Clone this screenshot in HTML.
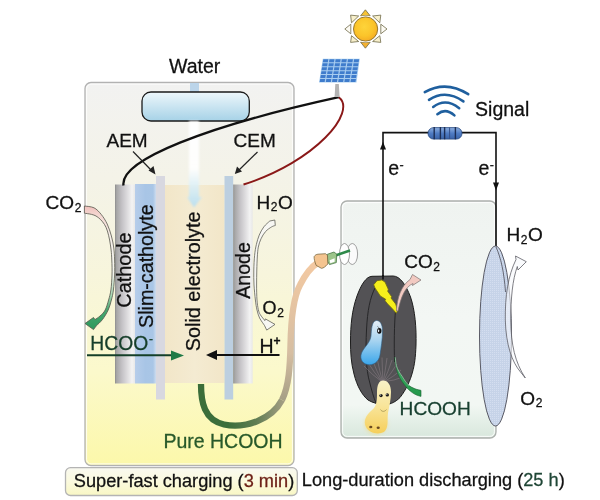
<!DOCTYPE html>
<html><head><meta charset="utf-8">
<style>
html,body{margin:0;padding:0;background:#fff;width:600px;height:500px;overflow:hidden}
svg{display:block}
text{font-family:"Liberation Sans",sans-serif;fill:#111;stroke:#111;stroke-width:0.28px}
svg{will-change:transform}
</style></head><body>
<svg width="600" height="500" viewBox="0 0 600 500">
<defs>
 <linearGradient id="gBox" x1="0" y1="0" x2="0" y2="1">
  <stop offset="0" stop-color="#f2f2f1"/>
  <stop offset="0.25" stop-color="#f4f3e8"/>
  <stop offset="0.5" stop-color="#f7f5dc"/>
  <stop offset="0.75" stop-color="#fbf9cc"/>
  <stop offset="1" stop-color="#fcf8aa"/>
 </linearGradient>
 <linearGradient id="gBox2" x1="0" y1="0" x2="0" y2="1">
  <stop offset="0" stop-color="#eff3f0"/>
  <stop offset="0.5" stop-color="#f3f7f4"/>
  <stop offset="0.86" stop-color="#f2f7f3"/>
  <stop offset="0.93" stop-color="#e4efe7"/>
  <stop offset="1" stop-color="#d8e7dc"/>
 </linearGradient>
 <linearGradient id="gPill" x1="0" y1="0" x2="0" y2="1">
  <stop offset="0" stop-color="#eef7fb"/>
  <stop offset="1" stop-color="#a6d2e7"/>
 </linearGradient>
 <linearGradient id="gCyl" x1="0" y1="0" x2="1" y2="0">
  <stop offset="0" stop-color="#8c8c8c"/>
  <stop offset="0.08" stop-color="#a6a6a6"/>
  <stop offset="0.35" stop-color="#c4c2c6"/>
  <stop offset="0.65" stop-color="#e0dfe1"/>
  <stop offset="0.85" stop-color="#f3f3f3"/>
  <stop offset="1" stop-color="#e8e8e8"/>
 </linearGradient>
 <linearGradient id="gBlue" x1="0" y1="0" x2="1" y2="0">
  <stop offset="0" stop-color="#b6cdea"/>
  <stop offset="0.5" stop-color="#a8c5e6"/>
  <stop offset="0.86" stop-color="#a9c6e6"/>
  <stop offset="1" stop-color="#cddcee"/>
 </linearGradient>
 <linearGradient id="gSE" x1="0" y1="0" x2="1" y2="0">
  <stop offset="0" stop-color="#f2e6c8"/>
  <stop offset="0.5" stop-color="#f4ebd2"/>
  <stop offset="1" stop-color="#f2e6c8"/>
 </linearGradient>
 <linearGradient id="gStream" x1="0" y1="0" x2="0" y2="1">
  <stop offset="0" stop-color="#ffffff" stop-opacity="0.95"/>
  <stop offset="0.55" stop-color="#ffffff" stop-opacity="0.9"/>
  <stop offset="0.8" stop-color="#d4ecf6" stop-opacity="0.9"/>
  <stop offset="1" stop-color="#b8def0" stop-opacity="0.95"/>
 </linearGradient>
 <filter id="blur2" x="-50%" y="-50%" width="200%" height="200%"><feGaussianBlur stdDeviation="2"/></filter>
 <filter id="soft" x="-50%" y="-10%" width="200%" height="120%"><feGaussianBlur stdDeviation="1.2"/></filter>
 <linearGradient id="gTubeA" gradientUnits="userSpaceOnUse" x1="228" y1="0" x2="284" y2="0">
  <stop offset="0" stop-color="#3b6e3a"/>
  <stop offset="0.5" stop-color="#5f7d52"/>
  <stop offset="1" stop-color="#a49e84"/>
 </linearGradient>
 <linearGradient id="gTubeB" gradientUnits="userSpaceOnUse" x1="0" y1="402" x2="0" y2="262">
  <stop offset="0" stop-color="#a49e84"/>
  <stop offset="0.35" stop-color="#d6bea2"/>
  <stop offset="1" stop-color="#f3c9a2"/>
 </linearGradient>
 <linearGradient id="gCO2" gradientUnits="userSpaceOnUse" x1="0" y1="206" x2="0" y2="328">
  <stop offset="0" stop-color="#f0c0bc"/>
  <stop offset="0.08" stop-color="#f4d8d2"/>
  <stop offset="0.24" stop-color="#f6efe9"/>
  <stop offset="0.56" stop-color="#f3f5ee"/>
  <stop offset="0.73" stop-color="#a8d8b4"/>
  <stop offset="0.85" stop-color="#48a870"/>
  <stop offset="1" stop-color="#2e9a5e"/>
 </linearGradient>
 <linearGradient id="gLbl" x1="0" y1="0" x2="0" y2="1">
  <stop offset="0" stop-color="#f9f9f0"/>
  <stop offset="0.5" stop-color="#fbfade"/>
  <stop offset="1" stop-color="#f9f7c4"/>
 </linearGradient>
 <linearGradient id="gGreen" gradientUnits="userSpaceOnUse" x1="0" y1="357" x2="0" y2="396">
  <stop offset="0" stop-color="#c8e8cc"/>
  <stop offset="0.35" stop-color="#3aa860"/>
  <stop offset="1" stop-color="#22984a"/>
 </linearGradient>
 <radialGradient id="gSun" cx="0.45" cy="0.4" r="0.65">
  <stop offset="0" stop-color="#fed43a"/>
  <stop offset="0.6" stop-color="#fbc42a"/>
  <stop offset="1" stop-color="#f4a822"/>
 </radialGradient>
 <linearGradient id="gRes" x1="0" y1="0" x2="0" y2="1">
  <stop offset="0" stop-color="#8fb0e0"/>
  <stop offset="0.5" stop-color="#4f7cc4"/>
  <stop offset="1" stop-color="#3a63a8"/>
 </linearGradient>
 <pattern id="dots" width="2" height="2" patternUnits="userSpaceOnUse">
  <rect width="2" height="2" fill="#c6d3e8"/>
  <rect width="1" height="1" fill="#d4def0"/>
 </pattern>
</defs>

<!-- LEFT BOX -->
<rect x="85" y="82.5" width="209" height="383" rx="6" fill="url(#gBox)" stroke="#b2b2b2" stroke-width="1.3"/>
<rect x="86.6" y="84.1" width="205.8" height="379.8" rx="4.6" fill="none" stroke="#ffffff" stroke-width="1" opacity="0.8"/>
<!-- water connector -->
<rect x="190" y="83" width="9" height="10" fill="#bcd5ea"/>

<!-- water pill -->
<rect x="142" y="92" width="107.3" height="29" rx="9" fill="url(#gPill)" stroke="#1a1a1a" stroke-width="1.3"/>

<!-- electrodes -->
<rect x="115" y="184.5" width="20" height="199" fill="url(#gCyl)"/>
<rect x="135" y="184" width="21" height="199.5" fill="url(#gBlue)"/>
<rect x="156" y="176" width="9" height="223.5" fill="#d8d8e0"/>
<rect x="165" y="185" width="59.5" height="198" fill="url(#gSE)"/>
<rect x="224.5" y="176" width="8.7" height="223.5" fill="#bccfe0"/>
<rect x="233.2" y="184.5" width="19.5" height="199" fill="url(#gCyl)"/>
<!-- water stream + arrow -->
<path d="M189,121 L199,121 L199,197 L202,197 L194,207.5 L187,197 L189,197 Z" fill="url(#gStream)" filter="url(#soft)"/>

<!-- wires -->
<path d="M123.5,185.5 C119.6,160 206.3,126.2 338.8,97.2" fill="none" stroke="#111" stroke-width="2.3"/>
<path d="M338.8,97.2 C357.3,111.4 316.4,161.4 243.5,184.5" fill="none" stroke="#8a1818" stroke-width="1.9"/>

<!-- AEM / CEM labels & arrows -->
<text x="106.5" y="147" font-size="19">AEM</text>
<text x="233.5" y="147" font-size="19">CEM</text>
<path d="M133,151.5 L152,171" stroke="#222" stroke-width="1.2"/>
<path d="M155.5,174.6 L148.5,170.5 L153.5,166 Z" fill="#222"/>
<path d="M257.5,152 L238,171" stroke="#222" stroke-width="1.2"/>
<path d="M234.8,174.1 L237,166.5 L242,171.5 Z" fill="#222"/>

<!-- Water text -->
<text x="169" y="73.3" font-size="19.5">Water</text>

<!-- vertical labels -->
<text transform="translate(130.6,307.7) rotate(-90)" font-size="19.9">Cathode</text>
<text transform="translate(152.8,328) rotate(-90)" font-size="19.7">Slim-catholyte</text>
<text transform="translate(200.2,351.2) rotate(-90)" font-size="19.8">Solid electrolyte</text>
<text transform="translate(249.6,298.8) rotate(-90)" font-size="19.6">Anode</text>

<!-- CO2 left + curved arrow -->
<text x="45.6" y="209.2" font-size="19">CO<tspan font-size="12" dy="2.6" dx="0.6">2</tspan></text>
<path d="M84.4,206.0 C86.0,206.3 91.2,206.4 94.0,207.8 C96.8,209.2 99.0,211.7 101.2,214.4 C103.4,217.1 105.5,220.4 107.2,224.0 C108.9,227.6 110.3,232.0 111.4,236.0 C112.5,240.0 113.3,244.0 113.8,248.0 C114.3,252.0 114.5,255.5 114.6,260.0 C114.7,264.5 114.8,270.0 114.6,275.0 C114.4,280.0 113.9,285.8 113.4,290.0 C112.9,294.2 112.3,296.7 111.4,300.0 C110.5,303.3 109.7,306.8 108.2,310.0 C106.7,313.2 104.5,316.9 102.5,319.5 C100.5,322.1 97.3,324.8 96.3,325.8 L93.5,329.6 L85,323.5 L93.5,317.5 L95.0,319.6 C95.8,319.0 98.3,317.6 100.0,316.0 C101.7,314.4 103.8,312.7 105.2,310.0 C106.6,307.3 107.6,303.3 108.6,300.0 C109.5,296.7 110.3,294.2 110.9,290.0 C111.5,285.8 111.8,280.0 112.0,275.0 C112.2,270.0 112.0,264.2 111.8,260.0 C111.6,255.8 111.5,253.3 111.1,250.0 C110.7,246.7 110.2,243.2 109.6,240.0 C109.0,236.8 108.2,233.6 107.4,231.0 C106.6,228.4 105.7,226.4 104.5,224.5 C103.3,222.6 101.9,220.9 100.5,219.5 C99.1,218.1 97.5,216.8 96.0,216.0 C94.5,215.2 93.5,214.9 91.6,214.4 C89.7,213.9 85.6,213.4 84.4,213.2 Z" fill="url(#gCO2)" stroke="#55554c" stroke-width="0.8" stroke-linejoin="round"/>

<!-- H2O left (anode) -->
<text x="256.5" y="208.8" font-size="19">H<tspan font-size="12" dy="2.6" dx="0.6">2</tspan><tspan dy="-2.6" dx="0.4">O</tspan></text>
<path d="M269.8,221.0 C268.8,222.0 265.6,224.5 263.8,226.9 C262.0,229.3 260.4,232.3 259.2,235.2 C258.0,238.1 257.2,241.0 256.4,244.4 C255.6,247.8 255.0,251.1 254.6,255.4 C254.2,259.7 253.9,265.1 253.8,270.0 C253.7,274.9 253.7,280.0 254.0,285.0 C254.3,290.0 254.9,295.8 255.4,300.0 C255.9,304.2 256.3,307.0 257.0,310.0 C257.7,313.0 258.4,315.4 259.6,318.0 C260.9,320.6 263.7,324.2 264.5,325.5 L266.7,330.1 L275,324.4 L265.4,318.9 L264.8,320.6 C264.1,319.6 261.4,316.5 260.3,314.7 C259.2,312.9 258.9,312.1 258.3,309.6 C257.8,307.2 257.3,304.1 257.0,300.0 C256.7,295.9 256.6,290.0 256.6,285.0 C256.6,280.0 256.7,274.7 256.8,270.0 C256.9,265.3 257.1,260.8 257.3,257.0 C257.6,253.2 257.7,250.1 258.3,247.1 C258.9,244.1 259.8,241.4 261.0,238.8 C262.2,236.2 263.8,233.5 265.6,231.5 C267.4,229.5 270.0,227.9 271.6,226.9 C273.2,225.9 274.7,225.7 275.3,225.5 L274.8,220 Z" fill="#f7f7f3" stroke="#55554f" stroke-width="0.75" stroke-linejoin="round"/>
<text x="262.6" y="313.9" font-size="18">O<tspan font-size="12" dy="2.6" dx="0.6">2</tspan></text>

<!-- HCOO- -->
<text x="90.3" y="350" font-size="19.3" style="fill:#163e2a;stroke:#163e2a">HCOO<tspan font-size="12" dy="-6.6" dx="0.8">-</tspan></text>
<path d="M87,355.3 L174,355.3" stroke="#143f28" stroke-width="2"/>
<path d="M184,355.5 L171,350.5 L171,360.5 Z" fill="#1f7a45"/>
<!-- H+ -->
<text x="259.5" y="352.9" font-size="19.5">H<tspan font-size="12" dy="-8" font-weight="bold">+</tspan></text>
<path d="M279.5,355 L214,355" stroke="#111" stroke-width="2.2"/>
<path d="M206,355 L217,350 L217,360 Z" fill="#111"/>

<!-- tube -->
<path d="M201,384 C201,402 204,420 224,424.5 C246,429 272,419 282,400" fill="none" stroke="url(#gTubeA)" stroke-width="6.3"/>
<path d="M282,400 C289,386 290,366 290.5,345 C291,318 293,298 300,285 C305,275 311,267 318,262.5" fill="none" stroke="url(#gTubeB)" stroke-width="6.3"/>

<text x="163.4" y="447.5" font-size="19.5" style="fill:#28592a;stroke:#28592a">Pure HCOOH</text>

<!-- bottom label box -->
<rect x="65.5" y="467.7" width="231.8" height="27.8" rx="5" fill="url(#gLbl)" stroke="#b4b4b4" stroke-width="1.3"/>
<text x="73.8" y="486.6" font-size="18.2">Super-fast charging (<tspan style="fill:#6e2218;stroke:#6e2218">3 min</tspan>)</text>
<text x="301.8" y="486.4" font-size="18.2">Long-duration discharging (<tspan style="fill:#1f4636;stroke:#1f4636">25 h</tspan>)</text>

<!-- SUN -->
<g stroke="#6f6a48" stroke-width="0.8" stroke-linejoin="round">
 <path d="M365.4,9.8 L360.6,15.8 L370.2,15.8 Z" fill="#f6c234"/>
 <path d="M365.4,48.2 L360.6,42.2 L370.2,42.2 Z" fill="#f3b030"/>
 <path d="M344.8,29 L350.8,24.2 L350.8,33.8 Z" fill="#fdfbf4"/>
 <path d="M387,29 L380.8,24.2 L380.8,33.8 Z" fill="#fdfbf4"/>
 <path d="M350.6,15.1 L358.7,16 L351.5,22.8 Z" fill="#f8f0cc"/>
 <path d="M380.8,15.1 L372.6,16 L379.8,22.8 Z" fill="#f8f0cc"/>
 <path d="M350.6,42.4 L358.7,41.5 L351.5,35.7 Z" fill="#f8f0cc"/>
 <path d="M380.8,42.4 L372.6,41.5 L379.8,35.7 Z" fill="#f8f0cc"/>
</g>
<circle cx="365.6" cy="29" r="13.2" fill="#fff"/>
<circle cx="365.6" cy="29" r="12.1" fill="url(#gSun)" stroke="#8a6e2a" stroke-width="0.9"/>

<!-- SOLAR PANEL -->
<path d="M335.3,84 L338.8,84 L339.6,97 L334.6,97 Z" fill="#b4b4b4"/>
<path d="M322.8,58.8 L359.8,58.8 L356.5,82.5 L319,82.5 Z" fill="#a8cdf0"/>
<g fill="#3f7ccc" transform="translate(322.8,58.8) skewX(-9.1)"><rect x="0.60" y="0.50" width="4.97" height="2.95"/><rect x="6.77" y="0.50" width="4.97" height="2.95"/><rect x="12.93" y="0.50" width="4.97" height="2.95"/><rect x="19.10" y="0.50" width="4.97" height="2.95"/><rect x="25.27" y="0.50" width="4.97" height="2.95"/><rect x="31.43" y="0.50" width="4.97" height="2.95"/><rect x="0.60" y="4.45" width="4.97" height="2.95"/><rect x="6.77" y="4.45" width="4.97" height="2.95"/><rect x="12.93" y="4.45" width="4.97" height="2.95"/><rect x="19.10" y="4.45" width="4.97" height="2.95"/><rect x="25.27" y="4.45" width="4.97" height="2.95"/><rect x="31.43" y="4.45" width="4.97" height="2.95"/><rect x="0.60" y="8.40" width="4.97" height="2.95"/><rect x="6.77" y="8.40" width="4.97" height="2.95"/><rect x="12.93" y="8.40" width="4.97" height="2.95"/><rect x="19.10" y="8.40" width="4.97" height="2.95"/><rect x="25.27" y="8.40" width="4.97" height="2.95"/><rect x="31.43" y="8.40" width="4.97" height="2.95"/><rect x="0.60" y="12.35" width="4.97" height="2.95"/><rect x="6.77" y="12.35" width="4.97" height="2.95"/><rect x="12.93" y="12.35" width="4.97" height="2.95"/><rect x="19.10" y="12.35" width="4.97" height="2.95"/><rect x="25.27" y="12.35" width="4.97" height="2.95"/><rect x="31.43" y="12.35" width="4.97" height="2.95"/><rect x="0.60" y="16.30" width="4.97" height="2.95"/><rect x="6.77" y="16.30" width="4.97" height="2.95"/><rect x="12.93" y="16.30" width="4.97" height="2.95"/><rect x="19.10" y="16.30" width="4.97" height="2.95"/><rect x="25.27" y="16.30" width="4.97" height="2.95"/><rect x="31.43" y="16.30" width="4.97" height="2.95"/><rect x="0.60" y="20.25" width="4.97" height="2.95"/><rect x="6.77" y="20.25" width="4.97" height="2.95"/><rect x="12.93" y="20.25" width="4.97" height="2.95"/><rect x="19.10" y="20.25" width="4.97" height="2.95"/><rect x="25.27" y="20.25" width="4.97" height="2.95"/><rect x="31.43" y="20.25" width="4.97" height="2.95"/></g>

<!-- RIGHT BOX -->
<rect x="341" y="201" width="155" height="237" rx="6" fill="url(#gBox2)" stroke="#adb0ad" stroke-width="1.3"/>
<rect x="342.6" y="202.6" width="151.8" height="233.8" rx="4.6" fill="none" stroke="#ffffff" stroke-width="1" opacity="0.85"/>

<!-- circuit -->
<path d="M383,279 L383,132.6 L496,132.6 L496,246" fill="none" stroke="#111" stroke-width="1.6"/>
<path d="M383,141.8 L380,149.6 L386,149.6 Z" fill="#111"/>
<path d="M496,190.5 L493,182.5 L499,182.5 Z" fill="#111"/>
<rect x="428" y="127.6" width="34" height="11.5" rx="5.7" fill="url(#gRes)" stroke="#2a4a80" stroke-width="0.8"/>
<g stroke="#1c2e55" stroke-width="1.4"><path d="M434.2,127 L434.2,139.3"/><path d="M440.4,127 L440.4,139.3"/><path d="M444.6,127 L444.6,139.3"/><path d="M455.4,127 L455.4,139.3"/></g>
<path d="M449.6,127.5 L449.6,139" stroke="#34508a" stroke-width="1"/>
<g fill="none" stroke="#1f5f9e" stroke-width="2.6" stroke-linecap="round">
 <path d="M424.8,92.2 Q446,80 468.2,94.2"/>
 <path d="M429,99.8 Q445.6,89 463.4,101.4"/>
 <path d="M433.2,107 Q445.6,97.5 459.2,108.2"/>
 <path d="M437.4,114.2 Q445.6,107.5 454.4,115.4"/>
</g>
<text x="475.1" y="115.6" font-size="19.5">Signal</text>
<text x="388.3" y="175" font-size="19.5">e<tspan font-size="12.5" dy="-6.3" dx="0.3">-</tspan></text>
<text x="478.5" y="175" font-size="19.5">e<tspan font-size="12.5" dy="-6.3" dx="0.3">-</tspan></text>

<!-- dark disc -->
<path d="M372,276.3 L393,276 C400,276 406,285 410.5,297 C415,310 416.5,328 416,345 C415.5,358 414.5,365 412.5,372 C410.5,380 406,390 400,397.5 C396,401.5 391,404.5 385,404.5 C379,404.5 373,403 368,400 C362,395 357,386 354,374 C351,363 350.5,352 350.5,342 C350.5,325 352,310 357,296 C361,285 366,276.5 372,276.3 Z" fill="#535255" stroke="#1e1e1e" stroke-width="1"/>
<path d="M375,288 C370,298 367.5,310 366.5,330 C365.5,350 366,370 369.6,382 C371.5,390 373.5,397 376,403" fill="none" stroke="#262628" stroke-width="1"/>
<path d="M395.5,310 C394.3,325 393.9,345 394.6,362" fill="none" stroke="#262628" stroke-width="1"/>
<path d="M383,275 L383,279.5" stroke="#111" stroke-width="1.6"/>
<!-- hair lines -->
<g stroke="#978890" stroke-width="0.5" fill="none" opacity="0.9">
 <path d="M381.5,381.5 Q372.6,375.2 364.0,366.0"/>
 <path d="M381.7,381.5 Q374.2,372.8 367.0,361.0"/>
 <path d="M382.1,381.5 Q376.9,371.8 372.0,359.0"/>
 <path d="M382.5,381.5 Q379.7,371.2 377.0,358.0"/>
 <path d="M382.9,381.5 Q382.4,371.0 382.0,357.5"/>
 <path d="M383.3,381.5 Q385.2,371.2 387.0,358.0"/>
 <path d="M383.7,381.5 Q387.9,372.2 392.0,360.0"/>
 <path d="M384.1,381.5 Q390.7,374.2 397.0,364.0"/>
 <path d="M384.4,381.5 Q392.9,377.2 401.0,370.0"/>
 <path d="M384.6,381.5 Q394.0,380.8 403.0,377.0"/>
</g>
<!-- lightning -->
<path d="M373.7,284.7 L377,280.7 L381.7,280 L385,282 L388.3,289.3 L387.7,291.3 L391.7,296.7 L391,298 L395.7,304 L397.7,310.7 L396.3,313.3 L392.3,308.7 L387.7,304 L385,300.7 L385.7,299.3 L380.3,296 L377.7,292 L375,288 Z" fill="#f6ef1c" stroke="#6e6a10" stroke-width="0.8" stroke-linejoin="round"/>
<!-- pink CO2 arrow -->
<path d="M396.5,311 C397,298 401,286 410,279.5 L412.5,274.5 L421,280 L412.5,285.5 L413,283.5 C405,287 401,297 398,311 Z" fill="#f2cac2" stroke="#7a7070" stroke-width="0.7" stroke-linejoin="round"/>
<!-- droplet -->
<linearGradient id="gDrop" x1="0" y1="0" x2="0" y2="1"><stop offset="0" stop-color="#e4eef6"/><stop offset="0.45" stop-color="#a8d4f0"/><stop offset="1" stop-color="#3aa6ea"/></linearGradient>
<path d="M376.5,320.5 C380.5,320.5 382.5,325 382.5,331 C382.5,340 381,348 380,355 C379,362 373,366 367,364.5 C361,363 359.5,357 362,352 C365,346 370,343 371,336 C371.5,330 371.5,321 376.5,320.5 Z" fill="url(#gDrop)" stroke="#2d5a80" stroke-width="0.6"/>
<ellipse cx="379.3" cy="330.8" rx="2.2" ry="2.9" fill="#111"/><ellipse cx="378.6" cy="330.8" rx="0.7" ry="1.4" fill="#e8f0f8"/><path d="M377.3,326.3 C378.3,326.8 379,327.6 379.2,328.4" fill="none" stroke="#333" stroke-width="0.5"/>
<!-- green strip -->
<path d="M395.0,357.0 C395.2,358.3 395.4,362.7 396.0,365.0 C396.6,367.3 397.5,369.2 398.5,371.0 C399.5,372.8 400.7,374.3 401.8,376.0 C402.9,377.7 403.8,379.4 405.0,381.0 C406.2,382.6 407.3,384.3 409.0,385.6 C410.7,386.9 413.0,388.0 415.0,388.8 C417.0,389.6 420.0,390.1 421.0,390.4 L421.0,396.4 C420.2,396.2 417.9,395.6 416.5,395.0 C415.1,394.4 413.9,393.7 412.6,392.8 C411.3,391.9 409.8,390.7 408.5,389.5 C407.2,388.3 406.2,387.2 405.0,385.6 C403.8,384.0 402.2,381.9 401.0,380.0 C399.8,378.1 398.8,376.0 398.0,374.0 C397.2,372.0 396.8,370.0 396.3,368.0 C395.9,366.0 395.5,363.0 395.3,362.0 Z" fill="url(#gGreen)" stroke="#1a6030" stroke-width="0.6"/>
<path d="M395.0,357.0 C395.2,358.3 395.4,362.7 396.0,365.0 C396.6,367.3 397.5,369.2 398.5,371.0 C399.5,372.8 400.7,374.3 401.8,376.0 C402.9,377.7 403.8,379.4 405.0,381.0 C406.2,382.6 408.3,384.8 409.0,385.6" fill="none" stroke="#c4ecd0" stroke-width="0.6" transform="translate(0.3,0.3)"/>
<!-- nose character -->
<linearGradient id="gNose" x1="0" y1="0" x2="0" y2="1"><stop offset="0" stop-color="#f8f2c8"/><stop offset="0.5" stop-color="#f8e498"/><stop offset="1" stop-color="#f6cf5a"/></linearGradient>
<ellipse cx="376" cy="424" rx="11" ry="10" fill="#f8d660" opacity="0.55" filter="url(#blur2)"/>
<path d="M383,380.5 C388,380.5 391,385 391,392 C391,400 389,407 388,413 C387,420 389,428 384,432 C378,435 369,433 366,427 C363,421 366,415 372,410 C377,406 377,400 377,392 C377,385 379,380.5 383,380.5 Z" fill="url(#gNose)"/>
<circle cx="381" cy="395.6" r="1.7" fill="#1a1a1a"/>
<circle cx="387.3" cy="394.9" r="1.7" fill="#1a1a1a"/>
<circle cx="380.5" cy="395" r="0.5" fill="#fff"/>
<circle cx="386.8" cy="394.3" r="0.5" fill="#fff"/>
<path d="M380.5,409.5 C382,412 384.5,412 386.5,409.5" fill="none" stroke="#8a7a40" stroke-width="0.6"/>
<ellipse cx="370.8" cy="427" rx="1.6" ry="1.3" fill="#6a4a20"/>
<ellipse cx="378.2" cy="427.7" rx="1.6" ry="1.3" fill="#6a4a20"/>

<!-- blue air cathode -->
<ellipse cx="495.5" cy="336" rx="16" ry="90" fill="url(#dots)" stroke="#4a4a55" stroke-width="0.9"/>
<path d="M496,247 C501,258 504,272 505.5,292" fill="none" stroke="#4a4a55" stroke-width="0.8"/>
<path d="M525.3,378 L520.5,372 C512,362 506,345 505.3,320 C505,296 508,276 516,259.5 L515.5,256 L526.3,261.7 L518,270 L517.3,266.5 C512.5,280 510.8,298 510.8,320 C511,345 515,362 525.3,378 Z" fill="#f6f8fb" fill-opacity="0.6" stroke="#5e5e66" stroke-width="0.8" stroke-linejoin="round"/>

<!-- fuel port & nozzle -->
<ellipse cx="352.3" cy="254" rx="5.3" ry="10.5" fill="#fbfbfb" stroke="#8a8a8a" stroke-width="0.8"/>
<ellipse cx="344.5" cy="254" rx="5" ry="10.5" fill="#ffffff" stroke="#8a8a8a" stroke-width="0.8"/>
<path d="M334,256 L350,250.5" stroke="#2f8a4a" stroke-width="2.6"/>
<path d="M327.3,254.3 L334,252 L336.8,254.2 L336.3,262.6 L329.5,264.6 L327.6,261.5 Z" fill="#9cc48a" stroke="#3a6a3a" stroke-width="0.7" stroke-linejoin="round"/>
<path d="M329.6,260.2 L334.6,258.3 L334.6,261.8 L330.3,263.2 Z" fill="#ffffff"/>
<path d="M314.1,256.7 C315,255 316.5,254.3 318,254.2 L325.5,253.7 L327.5,255.5 L327.8,264 C325.5,266.5 323.5,268.3 321.4,268.3 L316.2,265.4 C314.8,262 314,259 314.1,256.7 Z" fill="#f4c490" stroke="#6a5a30" stroke-width="0.7" stroke-linejoin="round"/>

<!-- texts right -->
<text x="404.2" y="268" font-size="19">CO<tspan font-size="12" dy="2.6" dx="0.6">2</tspan></text>
<text x="506.5" y="241.3" font-size="19">H<tspan font-size="12" dy="2.6" dx="0.6">2</tspan><tspan dy="-2.6" dx="0.4">O</tspan></text>
<text x="520.3" y="404.8" font-size="19">O<tspan font-size="12" dy="2.6" dx="0.6">2</tspan></text>
<text x="399.6" y="415.4" font-size="19.1" style="fill:#173f2f;stroke:#173f2f">HCOOH</text>
</svg>
</body></html>
